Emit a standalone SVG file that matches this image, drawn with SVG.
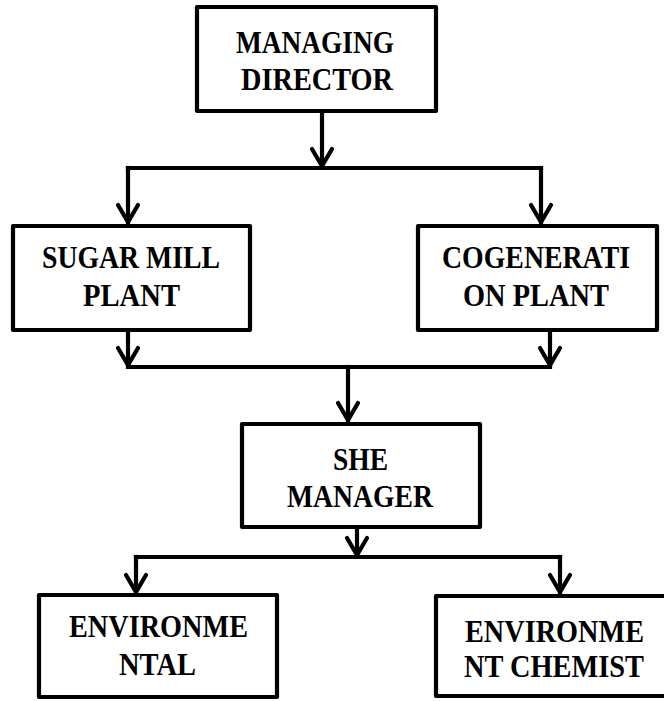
<svg xmlns="http://www.w3.org/2000/svg" width="664" height="701" viewBox="0 0 664 701">
<defs>
<style>
.box{fill:#fff;stroke:#000;stroke-width:4.2;stroke-linejoin:round}
.lbl{font-family:"Liberation Serif","Times New Roman",serif;font-weight:bold;font-size:32px;fill:#000}
.ln{fill:none;stroke:#000;stroke-width:4.2;stroke-linecap:square}
</style>
<marker id="arr" markerUnits="userSpaceOnUse" markerWidth="30" markerHeight="30" refX="0" refY="0" orient="auto" overflow="visible">
<path d="M-17,-10 L0,0 L-17,10" fill="none" stroke="#000" stroke-width="4.2" stroke-linecap="round" stroke-linejoin="miter"/>
</marker>
</defs>
<rect width="664" height="701" fill="#fff"/>
<g id="connectors">
<path class="ln" d="M322,112 L322,166" marker-end="url(#arr)"/>
<path class="ln" d="M128,168 L541,168"/>
<path class="ln" d="M128,168 L128,222" marker-end="url(#arr)"/>
<path class="ln" d="M541,168 L541,222" marker-end="url(#arr)"/>
<path class="ln" d="M128,331 L128,365" marker-end="url(#arr)"/>
<path class="ln" d="M550,331 L550,365" marker-end="url(#arr)"/>
<path class="ln" d="M128,367 L550,367"/>
<path class="ln" d="M348,367 L348,420" marker-end="url(#arr)"/>
<path class="ln" d="M357,528 L357,555" marker-end="url(#arr)"/>
<path class="ln" d="M136,557 L560,557"/>
<path class="ln" d="M136,557 L136,592" marker-end="url(#arr)"/>
<path class="ln" d="M560,557 L560,592" marker-end="url(#arr)"/>
</g>
<g id="managing-director">
<rect class="box" x="197" y="7" width="239" height="104"/>
<text class="lbl" x="236" y="53" textLength="158" lengthAdjust="spacingAndGlyphs">MANAGING</text>
<text class="lbl" x="241" y="90" textLength="152" lengthAdjust="spacingAndGlyphs">DIRECTOR</text>
</g>
<g id="sugar-mill-plant">
<rect class="box" x="13" y="226" width="237" height="104"/>
<text class="lbl" x="42" y="268" textLength="178" lengthAdjust="spacingAndGlyphs">SUGAR MILL</text>
<text class="lbl" x="83" y="306" textLength="97" lengthAdjust="spacingAndGlyphs">PLANT</text>
</g>
<g id="cogeneration-plant">
<rect class="box" x="418" y="226" width="239" height="104"/>
<text class="lbl" x="442" y="268" textLength="188" lengthAdjust="spacingAndGlyphs">COGENERATI</text>
<text class="lbl" x="463" y="306" textLength="146" lengthAdjust="spacingAndGlyphs">ON PLANT</text>
</g>
<g id="she-manager">
<rect class="box" x="242" y="424" width="238" height="103"/>
<text class="lbl" x="333" y="470" textLength="55" lengthAdjust="spacingAndGlyphs">SHE</text>
<text class="lbl" x="287" y="507" textLength="146" lengthAdjust="spacingAndGlyphs">MANAGER</text>
</g>
<g id="environmental">
<rect class="box" x="39" y="595" width="238" height="102"/>
<text class="lbl" x="69" y="637" textLength="179" lengthAdjust="spacingAndGlyphs">ENVIRONME</text>
<text class="lbl" x="119" y="675" textLength="77" lengthAdjust="spacingAndGlyphs">NTAL</text>
</g>
<g id="environment-chemist">
<rect class="box" x="436" y="596" width="240" height="100"/>
<text class="lbl" x="465" y="642" textLength="179" lengthAdjust="spacingAndGlyphs">ENVIRONME</text>
<text class="lbl" x="464" y="677" textLength="180" lengthAdjust="spacingAndGlyphs">NT CHEMIST</text>
</g>
</svg>
